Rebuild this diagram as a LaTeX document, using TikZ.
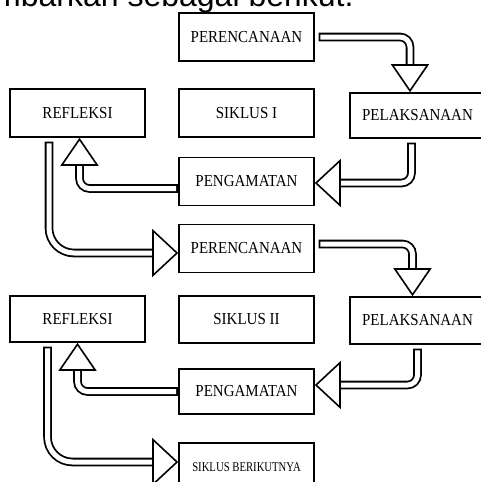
\documentclass[tikz,border=0pt]{standalone}
\usepackage{fontspec}
\setmainfont{Liberation Serif}
\newfontfamily\introfont{Liberation Sans}
\usepackage{graphicx}
\usetikzlibrary{arrows.meta}
\newcommand{\tallcaps}[1]{\scalebox{1}[1.12]{#1}}

\begin{document}
\begin{tikzpicture}[x=1pt,y=-1pt]
	 \tikzstyle{box}=[draw,line width=1.6pt,fill=white,minimum width=135pt,minimum height=48pt,inner sep=0pt,font=\fontsize{15}{18}\selectfont]
	 \tikzstyle{small box}=[box,font=\fontsize{10.7}{13}\selectfont]
	 \tikzstyle{flow}=[draw,line width=1.8pt,double,double distance=5pt,line cap=rect,rounded corners=10pt,shorten <=8pt]
	 \tikzstyle{vflow}=[flow,-{Triangle[fill=white,length=28pt,width=38pt,line width=1.6pt]}]
	 \tikzstyle{hflow}=[flow,-{Triangle[fill=white,length=26pt,width=48pt,line width=1.6pt]}]

	 \useasboundingbox (0,0) rectangle (481,482);
	 \clip (0,0) rectangle (481,482);

	 \node[anchor=base west,inner sep=0pt,font=\introfont\fontsize{32}{38}\selectfont] (intro) at (-6,6) {mbarkan sebagai berikut.};

	 % siklus I
	 \node[box] (plan1) at (246.5,37) 	{\tallcaps{PERENCANAAN}};
	 \node[box] (refl1) at (77.5,113) 	{\tallcaps{REFLEKSI}};
	 \node[box] (cyc1) at (246.5,113) 	{\tallcaps{SIKLUS I}};
	 \node[box,minimum height=45pt] (act1) at (417.5,115.5) 	{\tallcaps{PELAKSANAAN}};
	 \node[box] (obs1) at (246.5,181.5) 	{\tallcaps{PENGAMATAN}};

	 % siklus II
	 \node[box] (plan2) at (246.5,248.5) 	{\tallcaps{PERENCANAAN}};
	 \node[box,minimum height=46pt] (refl2) at (77.5,319) 	{\tallcaps{REFLEKSI}};
	 \node[box,minimum height=47pt] (cyc2) at (246.5,319.5) 	{\tallcaps{SIKLUS II}};
	 \node[box,minimum height=47pt] (act2) at (417.5,320.5) 	{\tallcaps{PELAKSANAAN}};
	 \node[box,minimum height=45pt] (obs2) at (246.5,391.5) 	{\tallcaps{PENGAMATAN}};
	 \node[small box] (next) at (246.5,467) 	{\scalebox{1}[1.25]{SIKLUS BERIKUTNYA}};

	 \draw[vflow] (plan1.east) -| ([xshift=-7.5pt]act1.north);
	 \draw[hflow] ([xshift=-6pt]act1.south) |- ([yshift=-1.5pt]obs1.east);
	 \draw[vflow,shorten <=4.5pt] ([yshift=-7pt]obs1.west) -| ([xshift=2pt]refl1.south);
	 \draw[hflow,rounded corners=25pt] ([xshift=-28.5pt]refl1.south) |- ([yshift=-4.5pt]plan2.west);

	 \draw[vflow] ([yshift=4.5pt]plan2.east) -| ([xshift=-5pt]act2.north);
	 \draw[hflow] (act2.south) |- ([yshift=6.5pt]obs2.east);
	 \draw[vflow,shorten <=4.5pt] (obs2.west) -| (refl2.south);
	 \draw[hflow,rounded corners=25pt] ([xshift=-30pt]refl2.south) |- ([yshift=5pt]next.west);
 \end{tikzpicture}
\end{document}
